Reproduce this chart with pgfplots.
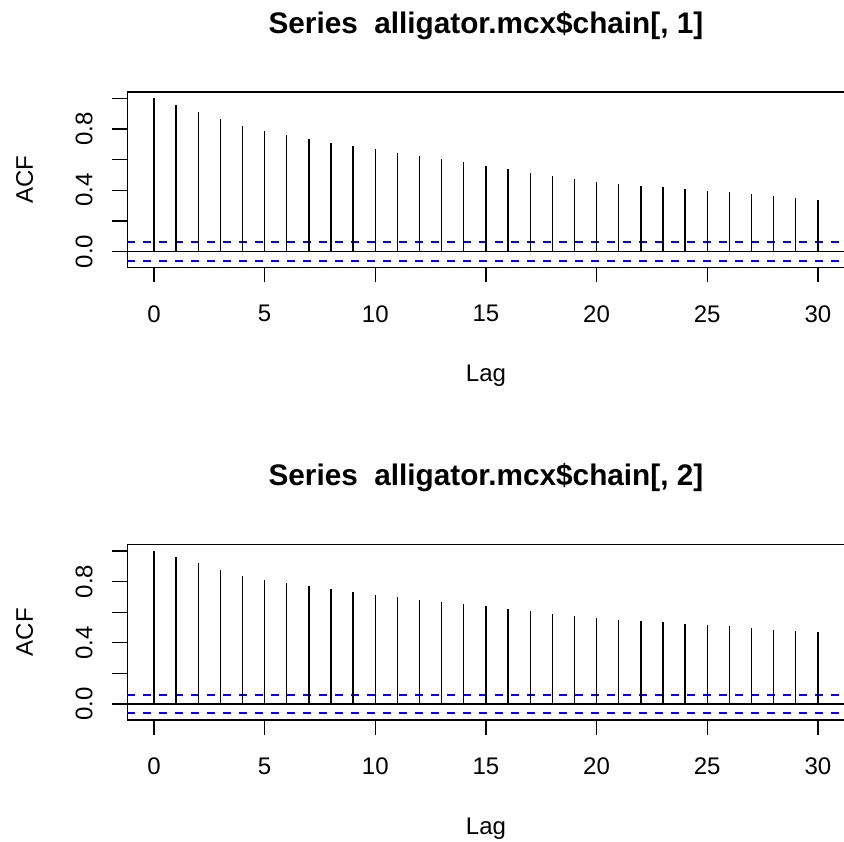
\documentclass[border=0pt]{standalone}
\usepackage{fontspec}
\setmainfont{Liberation Sans}
\usepackage{pgfplots}
\pgfplotsset{compat=1.18}

% 1 px of the reference = 0.75pt
\pgfplotsset{
  acfaxis/.style={
    scale only axis,
    anchor=south west,
    width=537.8pt, height=131.6pt,
    xmin=-1.2, xmax=31.2, ymin=-0.1045, ymax=1.0425,
    axis line style={line width=1pt},
    every tick/.style={black, line width=1pt},
    tick align=outside, tick pos=left,
    major tick length=11.25pt,
    xtick={0,5,10,15,20,25,30},
    xticklabels={0,5,10,15,20,25,30},
    ytick={0,0.2,0.4,0.6,0.8,1},
    yticklabels={0.0,,0.4,,0.8,},
    ticklabel style={font=\fontsize{18}{21}\selectfont, inner sep=0pt},
    yticklabel style={rotate=90, anchor=base},
    xticklabel style={anchor=north},
    yticklabel shift=15pt,
    xticklabel shift=17pt,
    xlabel={Lag}, ylabel={ACF},
    every axis x label/.style={at={(axis description cs:0.5,0)}, anchor=base,
      yshift=-85.9pt, font=\fontsize{18}{21}\selectfont, inner sep=0pt},
    every axis y label/.style={at={(axis description cs:0,0.5)}, rotate=90,
      anchor=base, yshift=70.8pt, font=\fontsize{18}{21}\selectfont, inner sep=0pt},
    every axis title/.style={at={(axis description cs:0.5,1)}, anchor=base,
      yshift=44pt, font=\fontsize{22.3}{26}\selectfont\bfseries, inner sep=0pt},
    clip=false,
  },
  conf/.style={color={rgb,255:red,0;green,0;blue,255}, dash pattern=on 6pt off 6pt, line width=1.5pt},
  bars/.style={ycomb, black, line width=1pt, mark=none},
}

\begin{document}
\begin{tikzpicture}
\useasboundingbox (0,0) rectangle (633pt,631.5pt);
\clip (0,0) rectangle (633pt,631.5pt);

\begin{axis}[acfaxis, at={(95.55pt,430.9pt)}, title={Series\ \ alligator.mcx\$chain[, 1]}]
\addplot[conf] coordinates {(-1.2,0.062) (31.2,0.062)};
\addplot[conf] coordinates {(-1.2,-0.062) (31.2,-0.062)};
\addplot[bars] coordinates {
(0,1.000) (1,0.958) (2,0.910) (3,0.864) (4,0.821) (5,0.788) (6,0.761)
(7,0.735) (8,0.711) (9,0.689) (10,0.667) (11,0.646) (12,0.624) (13,0.604)
(14,0.584) (15,0.560) (16,0.538) (17,0.514) (18,0.495) (19,0.475) (20,0.457)
(21,0.442) (22,0.429) (23,0.420) (24,0.409) (25,0.396) (26,0.387) (27,0.376)
(28,0.361) (29,0.350) (30,0.337)
};
\addplot[black, line width=1pt] coordinates {(-1.2,0) (31.2,0)};
\end{axis}

\begin{axis}[acfaxis, at={(95.55pt,91.5pt)}, title={Series\ \ alligator.mcx\$chain[, 2]}]
\addplot[conf] coordinates {(-1.2,0.062) (31.2,0.062)};
\addplot[conf] coordinates {(-1.2,-0.062) (31.2,-0.062)};
\addplot[bars] coordinates {
(0,1.000) (1,0.963) (2,0.919) (3,0.875) (4,0.838) (5,0.811) (6,0.792)
(7,0.770) (8,0.750) (9,0.732) (10,0.715) (11,0.700) (12,0.682) (13,0.669)
(14,0.654) (15,0.640) (16,0.623) (17,0.607) (18,0.590) (19,0.575) (20,0.561)
(21,0.550) (22,0.542) (23,0.533) (24,0.526) (25,0.515) (26,0.507) (27,0.496)
(28,0.487) (29,0.478) (30,0.469)
};
\addplot[black, line width=1pt] coordinates {(-1.2,0) (31.2,0)};
\end{axis}
\end{tikzpicture}
\end{document}
